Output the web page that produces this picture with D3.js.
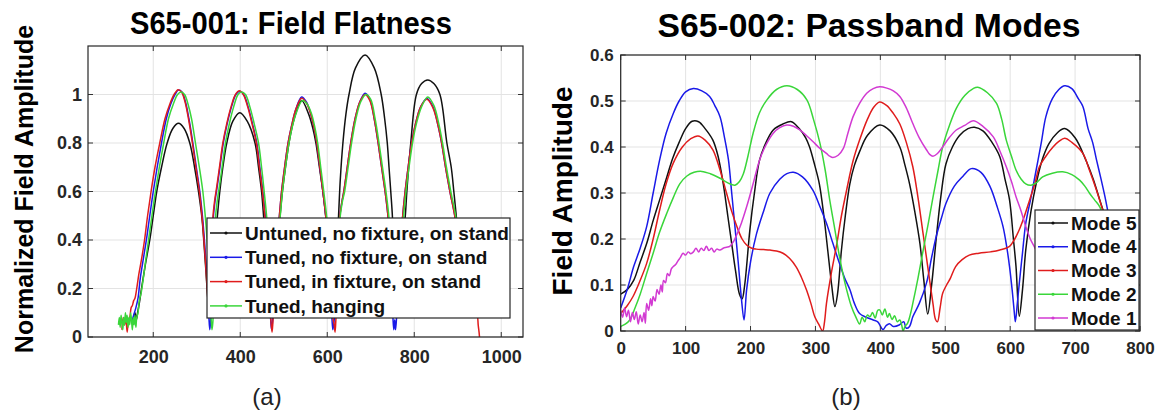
<!DOCTYPE html>
<html><head><meta charset="utf-8">
<script src="https://cdn.jsdelivr.net/npm/d3@7"></script>
<style>
html,body{margin:0;padding:0;background:#fff;}
svg{display:block;}
text{font-family:"Liberation Sans",Arial,Helvetica,sans-serif;}
</style></head>
<body>
<svg id="c" width="1158" height="414"></svg>
<script>
// ---------------- DATA: left chart (S65-001 Field Flatness) ----------------
const leftTitle = "S65-001: Field Flatness";
const leftYLabel = "Normalized Field Amplitude";
const leftXTicks = [200, 400, 600, 800, 1000];
const leftYTicks = [0, 0.2, 0.4, 0.6, 0.8, 1];
const leftSeriesNames = ["Untuned, no fixture, on stand", "Tuned, no fixture, on stand", "Tuned, in fixture, on stand", "Tuned, hanging"];

const untuned = [[155,0.08],[158,0.1],[161,0.07],[164,0.1],[168,0.14],[173,0.2],[182,0.3],[192,0.4],[200,0.5],[208,0.6],[219,0.7],[232,0.8],[245,0.86],[258,0.881],[271,0.86],[284,0.8],[295,0.7],[304,0.6],[312,0.49],[320,0.3],[326,0.15],[330,0.1],[334,0.14],[340,0.35],[347,0.49],[353,0.6],[360,0.7],[369,0.8],[383,0.89],[399,0.925],[416,0.89],[434,0.8],[442,0.7],[449,0.6],[454,0.49],[462,0.3],[468,0.14],[472,0.1],[477,0.18],[485,0.38],[491,0.49],[497,0.6],[504,0.7],[512,0.8],[524,0.9],[541,0.975],[557,0.92],[567,0.86],[574,0.8],[582,0.7],[590,0.6],[597,0.49],[604,0.3],[610,0.14],[614,0.1],[618,0.15],[622,0.35],[626,0.5],[630,0.65],[636,0.8],[643,0.92],[650,1.0],[665,1.11],[687,1.163],[708,1.11],[724,1.0],[732,0.9],[738,0.8],[742,0.7],[746,0.6],[750,0.49],[753,0.3],[756,0.14],[758,0.1],[762,0.15],[770,0.35],[779,0.49],[783,0.6],[792,0.8],[805,1.0],[817,1.045],[831,1.06],[845,1.045],[859,1.0],[875,0.8],[885,0.7],[891,0.6],[897,0.49],[905,0.3],[912,0.14]];

const tunedNoFixture = [[150,0.06],[155,0.09],[160,0.12],[165,0.16],[170,0.24],[177,0.32],[185,0.41],[192,0.5],[200,0.6],[209,0.7],[219,0.8],[230,0.9],[240,0.96],[250,1.0],[258,1.018],[266,1.01],[274,0.97],[282,0.9],[291,0.8],[299,0.7],[307,0.6],[314,0.48],[320,0.34],[325,0.2],[328,0.08],[330,0.03],[332,0.07],[335,0.3],[338,0.49],[342,0.56],[347,0.62],[354,0.71],[361,0.8],[370,0.88],[380,0.95],[390,1.0],[399,1.013],[408,1.0],[418,0.95],[428,0.88],[438,0.8],[445,0.7],[452,0.6],[458,0.49],[463,0.35],[467,0.2],[470,0.07],[472,0.03],[474,0.06],[478,0.2],[484,0.4],[490,0.5],[495,0.6],[502,0.7],[510,0.8],[518,0.87],[528,0.94],[541,0.99],[552,0.97],[562,0.92],[570,0.86],[576,0.8],[583,0.7],[590,0.6],[597,0.49],[603,0.35],[608,0.18],[611,0.07],[613,0.03],[616,0.07],[620,0.2],[625,0.4],[629,0.5],[634,0.56],[638,0.6],[646,0.7],[654,0.8],[664,0.9],[675,0.97],[687,1.005],[698,0.98],[708,0.9],[717,0.8],[725,0.7],[733,0.6],[740,0.49],[744,0.35],[748,0.2],[751,0.08],[753,0.03],[755,0.07],[757,0.03],[760,0.1],[766,0.3],[773,0.49],[779,0.6],[786,0.7],[794,0.8],[803,0.88],[815,0.95],[829,0.984],[843,0.95],[855,0.87],[863,0.8],[872,0.7],[882,0.6],[894,0.49],[902,0.3],[908,0.15]];

const tunedInFixture = [[128,0.03],[131,0.08],[134,0.05],[137,0.08],[140,0.02],[143,0.07],[146,0.08],[149,0.12],[152,0.13],[155,0.15],[158,0.16],[162,0.2],[167,0.26],[173,0.32],[180,0.4],[187,0.5],[195,0.6],[204,0.7],[215,0.8],[227,0.9],[238,0.96],[248,1.0],[257,1.02],[265,1.01],[273,0.97],[281,0.9],[290,0.8],[298,0.7],[306,0.6],[313,0.48],[319,0.34],[324,0.2],[327,0.12],[329,0.1],[331,0.12],[334,0.3],[337,0.49],[341,0.56],[346,0.62],[353,0.71],[360,0.8],[369,0.88],[379,0.95],[389,1.0],[398,1.015],[407,1.0],[417,0.95],[427,0.88],[437,0.8],[444,0.7],[451,0.6],[457,0.49],[462,0.35],[467,0.2],[470,0.08],[473,0.02],[475,0.06],[479,0.2],[485,0.4],[490,0.5],[495,0.6],[502,0.7],[510,0.8],[518,0.87],[528,0.94],[541,0.985],[552,0.965],[562,0.92],[570,0.86],[576,0.8],[583,0.7],[590,0.6],[597,0.49],[603,0.35],[609,0.18],[613,0.08],[616,0.05],[618,0.02],[620,0.08],[624,0.3],[629,0.5],[634,0.56],[638,0.6],[646,0.7],[654,0.8],[664,0.9],[675,0.97],[687,1.0],[698,0.975],[708,0.9],[717,0.8],[725,0.7],[733,0.6],[740,0.49],[744,0.35],[748,0.2],[752,0.12],[755,0.1],[760,0.14],[766,0.3],[773,0.49],[779,0.6],[786,0.7],[794,0.8],[803,0.88],[815,0.95],[829,0.98],[843,0.945],[855,0.87],[863,0.8],[872,0.7],[882,0.6],[894,0.49],[905,0.35],[918,0.22],[930,0.15],[940,0.11],[945,0.09],[947,0.05],[949,0.02],[950,0.0]];

const tunedHanging = [[120,0.05],[122,0.08],[124,0.04],[126,0.09],[128,0.06],[130,0.03],[132,0.08],[134,0.05],[136,0.1],[138,0.06],[140,0.09],[142,0.04],[144,0.08],[146,0.05],[148,0.1],[150,0.07],[152,0.03],[154,0.08],[156,0.05],[158,0.09],[160,0.04],[162,0.08],[165,0.1],[168,0.15],[172,0.18],[177,0.24],[183,0.32],[190,0.41],[197,0.5],[205,0.6],[214,0.7],[224,0.8],[235,0.9],[246,0.96],[256,1.0],[264,1.01],[272,1.0],[280,0.96],[288,0.9],[297,0.8],[306,0.7],[314,0.6],[320,0.49],[326,0.34],[330,0.2],[333,0.08],[335,0.03],[337,0.06],[340,0.3],[343,0.49],[347,0.56],[352,0.62],[359,0.71],[366,0.8],[375,0.88],[385,0.95],[395,1.0],[403,1.01],[412,1.0],[422,0.95],[432,0.88],[442,0.8],[449,0.7],[455,0.6],[461,0.49],[466,0.35],[470,0.2],[473,0.12],[475,0.1],[478,0.17],[486,0.4],[492,0.5],[497,0.6],[504,0.7],[512,0.8],[520,0.87],[530,0.93],[543,0.975],[554,0.96],[564,0.92],[572,0.86],[578,0.8],[585,0.7],[592,0.6],[599,0.49],[605,0.35],[610,0.18],[613,0.12],[616,0.1],[619,0.17],[624,0.35],[630,0.5],[635,0.56],[640,0.6],[648,0.7],[656,0.8],[666,0.9],[677,0.97],[689,1.0],[700,0.98],[710,0.9],[719,0.8],[727,0.7],[735,0.6],[742,0.49],[746,0.35],[750,0.2],[753,0.12],[756,0.1],[760,0.15],[767,0.3],[775,0.49],[781,0.6],[788,0.7],[796,0.8],[805,0.88],[817,0.95],[831,0.99],[845,0.955],[857,0.875],[865,0.8],[874,0.7],[884,0.6],[896,0.49],[904,0.3],[910,0.15]];

// ---------------- DATA: right chart (S65-002 Passband Modes) ----------------
const rightTitle = "S65-002: Passband Modes";
const rightYLabel = "Field Amplitude";
const rightXTicks = [0, 100, 200, 300, 400, 500, 600, 700, 800];
const rightYTicks = [0, 0.1, 0.2, 0.3, 0.4, 0.5, 0.6];
const modeNames = ["Mode 5", "Mode 4", "Mode 3", "Mode 2", "Mode 1"];

const mode5 = [[0,0.08],[10,0.09],[20,0.11],[30,0.15],[40,0.19],[50,0.24],[60,0.285],[70,0.33],[80,0.375],[90,0.41],[100,0.44],[110,0.456],[120,0.455],[130,0.44],[142,0.415],[150,0.38],[158,0.32],[165,0.25],[171,0.19],[177,0.13],[183,0.08],[187,0.07],[191,0.1],[199,0.22],[206,0.3],[214,0.372],[224,0.41],[235,0.437],[250,0.45],[263,0.455],[275,0.44],[285,0.42],[291,0.4],[299,0.36],[306,0.32],[313,0.25],[319,0.175],[325,0.1],[330,0.053],[334,0.08],[340,0.175],[346,0.25],[353,0.32],[360,0.36],[368,0.39],[380,0.425],[399,0.448],[415,0.435],[430,0.4],[438,0.36],[445,0.32],[453,0.26],[461,0.19],[467,0.11],[473,0.037],[479,0.1],[486,0.2],[493,0.29],[501,0.363],[511,0.4],[522,0.425],[535,0.44],[545,0.443],[558,0.435],[572,0.41],[584,0.379],[592,0.33],[599,0.285],[605,0.2],[609,0.14],[614,0.032],[619,0.09],[624,0.176],[632,0.26],[640,0.32],[650,0.375],[660,0.408],[672,0.43],[684,0.44],[700,0.42],[717,0.37],[728,0.33],[738,0.285],[748,0.24],[758,0.19],[770,0.12]];

const mode4 = [[0,0.05],[10,0.09],[20,0.14],[30,0.18],[40,0.227],[50,0.3],[60,0.372],[70,0.43],[81,0.473],[90,0.5],[100,0.52],[112,0.527],[125,0.522],[137,0.51],[145,0.49],[153,0.466],[160,0.42],[166,0.372],[171,0.3],[176,0.227],[181,0.15],[186,0.07],[190,0.024],[194,0.09],[200,0.15],[209,0.21],[220,0.26],[230,0.3],[245,0.33],[256,0.342],[266,0.345],[280,0.335],[296,0.306],[307,0.27],[317,0.234],[327,0.19],[337,0.147],[345,0.115],[353,0.09],[360,0.06],[368,0.038],[378,0.03],[389,0.024],[396,0.02],[404,0.003],[409,0.012],[414,0.016],[420,0.01],[429,0.013],[436,0.02],[440,0.006],[445,0.01],[450,0.031],[460,0.06],[471,0.104],[479,0.16],[486,0.205],[494,0.245],[501,0.277],[514,0.315],[527,0.336],[540,0.353],[555,0.345],[569,0.314],[580,0.27],[589,0.227],[595,0.18],[599,0.14],[603,0.09],[606,0.046],[608,0.02],[611,0.06],[614,0.103],[619,0.17],[624,0.234],[632,0.29],[640,0.35],[648,0.41],[655,0.466],[665,0.505],[675,0.525],[684,0.533],[695,0.527],[705,0.505],[712,0.488],[720,0.44],[727,0.41],[733,0.372],[740,0.33],[746,0.292],[752,0.25],[760,0.2]];

const mode3 = [[0,0.038],[10,0.055],[19,0.075],[30,0.11],[40,0.147],[50,0.2],[60,0.263],[70,0.32],[81,0.365],[95,0.4],[108,0.418],[119,0.424],[130,0.415],[142,0.394],[153,0.35],[163,0.3],[171,0.26],[179,0.227],[187,0.2],[194,0.187],[202,0.18],[209,0.178],[220,0.177],[230,0.176],[240,0.174],[250,0.169],[260,0.158],[270,0.14],[278,0.118],[286,0.09],[293,0.06],[299,0.031],[305,0.015],[311,0.0],[314,0.02],[317,0.06],[325,0.13],[333,0.19],[340,0.25],[348,0.306],[358,0.37],[368,0.415],[380,0.46],[390,0.487],[399,0.498],[410,0.49],[420,0.473],[430,0.45],[440,0.41],[450,0.357],[458,0.29],[466,0.21],[473,0.14],[481,0.06],[485,0.025],[488,0.02],[492,0.05],[496,0.082],[502,0.1],[508,0.115],[516,0.14],[526,0.155],[537,0.165],[552,0.169],[570,0.172],[584,0.176],[599,0.184],[607,0.2],[614,0.22],[622,0.25],[630,0.285],[638,0.32],[645,0.357],[655,0.38],[666,0.4],[675,0.412],[684,0.419],[695,0.41],[712,0.386],[722,0.35],[733,0.306],[741,0.27],[748,0.24],[756,0.2]];

const mode2 = [[0,0.01],[7,0.015],[14,0.024],[22,0.05],[30,0.08],[40,0.125],[50,0.169],[60,0.215],[71,0.256],[81,0.29],[91,0.32],[102,0.337],[113,0.345],[125,0.347],[138,0.342],[153,0.332],[165,0.322],[176,0.317],[183,0.325],[189,0.342],[196,0.38],[204,0.43],[214,0.475],[225,0.502],[240,0.525],[256,0.533],[272,0.525],[287,0.502],[297,0.46],[307,0.408],[315,0.35],[322,0.285],[330,0.22],[337,0.162],[343,0.12],[348,0.09],[355,0.055],[363,0.028],[368,0.015],[372,0.03],[376,0.02],[380,0.035],[384,0.031],[388,0.04],[392,0.028],[396,0.045],[399,0.046],[403,0.035],[407,0.048],[411,0.03],[414,0.038],[418,0.025],[422,0.033],[426,0.02],[430,0.024],[433,0.012],[435,0.0],[438,0.01],[442,0.017],[446,0.035],[450,0.06],[458,0.115],[466,0.176],[474,0.235],[481,0.29],[489,0.35],[496,0.4],[506,0.445],[517,0.484],[530,0.512],[543,0.527],[550,0.53],[565,0.518],[579,0.495],[587,0.46],[594,0.415],[602,0.38],[609,0.35],[617,0.33],[624,0.32],[632,0.317],[640,0.322],[650,0.335],[665,0.343],[681,0.346],[695,0.34],[707,0.328],[715,0.315],[722,0.3],[730,0.285],[738,0.27],[746,0.24],[755,0.2]];

const mode1 = [[0,0.045],[3,0.03],[6,0.05],[9,0.031],[12,0.045],[15,0.02],[18,0.04],[21,0.025],[24,0.042],[27,0.015],[30,0.035],[33,0.02],[36,0.04],[38,0.017],[40,0.06],[43,0.045],[46,0.07],[48,0.055],[50,0.075],[53,0.065],[56,0.09],[59,0.08],[62,0.1],[64,0.085],[66,0.11],[69,0.105],[72,0.125],[75,0.12],[78,0.135],[81,0.14],[85,0.145],[88,0.152],[92,0.16],[96,0.169],[100,0.165],[104,0.172],[108,0.168],[112,0.172],[116,0.18],[120,0.172],[124,0.18],[128,0.175],[132,0.184],[136,0.175],[140,0.18],[144,0.172],[148,0.178],[153,0.176],[158,0.18],[163,0.182],[168,0.184],[174,0.195],[179,0.21],[186,0.235],[194,0.27],[204,0.32],[214,0.372],[224,0.405],[235,0.43],[245,0.442],[256,0.448],[266,0.445],[276,0.437],[286,0.425],[296,0.412],[306,0.398],[317,0.386],[322,0.38],[327,0.377],[335,0.382],[343,0.397],[350,0.43],[358,0.466],[368,0.495],[379,0.517],[389,0.527],[399,0.531],[410,0.528],[420,0.522],[430,0.51],[440,0.485],[450,0.451],[460,0.42],[471,0.394],[476,0.384],[481,0.38],[488,0.386],[496,0.4],[506,0.42],[517,0.437],[530,0.447],[543,0.457],[558,0.445],[574,0.422],[584,0.392],[594,0.357],[602,0.325],[609,0.292],[617,0.26],[624,0.227],[631,0.2],[637,0.184],[645,0.16]];

// ---------------- DRAWING ----------------
const svg = d3.select("#c");
const C = {black:"#111111", blue:"#1a1ae8", red:"#e01c1c", green:"#3ad63a", magenta:"#d23ad2"};

function drawChart(cfg){
  const g = svg.append("g");
  const x = cfg.x, y = cfg.y;
  const [x0,x1] = x.range(), [y0,y1] = y.range();
  g.append("g").selectAll("line").data(cfg.xTicks).join("line")
    .attr("x1",d=>x(d)).attr("x2",d=>x(d)).attr("y1",y0).attr("y2",y1)
    .attr("stroke","#e3e3e3").attr("stroke-width",1);
  g.append("g").selectAll("line").data(cfg.yTicks).join("line")
    .attr("x1",x0).attr("x2",x1).attr("y1",d=>y(d)).attr("y2",d=>y(d))
    .attr("stroke","#e3e3e3").attr("stroke-width",1);
  const clipId = "clip"+cfg.id;
  g.append("clipPath").attr("id",clipId).append("rect")
    .attr("x",x0).attr("y",y1).attr("width",x1-x0).attr("height",y0-y1);
  const line = d3.line().x(d=>x(d[0])).y(d=>y(d[1])).curve(d3.curveCatmullRom.alpha(0.5));
  const sg = g.append("g").attr("clip-path","url(#"+clipId+")");
  cfg.series.forEach(s=>{
    sg.append("path").attr("d",line(s.data)).attr("fill","none")
      .attr("stroke",s.color).attr("stroke-width",1.5).attr("stroke-linejoin","round");
  });
  const fs = cfg.tickFont;
  const ax = g.append("g").attr("transform",`translate(0,${y0})`)
    .call(d3.axisBottom(x).tickValues(cfg.xTicks).tickSize(0).tickPadding(cfg.xPad).tickFormat(d3.format("")));
  const ay = g.append("g").attr("transform",`translate(${x0},0)`)
    .call(d3.axisLeft(y).tickValues(cfg.yTicks).tickSize(0).tickPadding(cfg.yPad).tickFormat(d=>String(+d.toFixed(2))));
  [ax,ay].forEach(a=>{
    a.select(".domain").remove();
    a.selectAll("text").attr("font-size",fs).attr("font-weight","bold").attr("fill","#262626")
      .attr("font-family","'Liberation Sans',Arial,sans-serif");
  });
  const tl = 5;
  const tk = g.append("g").attr("stroke","#333").attr("stroke-width",1);
  cfg.xTicks.forEach(t=>{
    tk.append("line").attr("x1",x(t)).attr("x2",x(t)).attr("y1",y0).attr("y2",y0-tl);
    tk.append("line").attr("x1",x(t)).attr("x2",x(t)).attr("y1",y1).attr("y2",y1+tl);
  });
  cfg.yTicks.forEach(t=>{
    tk.append("line").attr("x1",x0).attr("x2",x0+tl).attr("y1",y(t)).attr("y2",y(t));
    tk.append("line").attr("x1",x1).attr("x2",x1-tl).attr("y1",y(t)).attr("y2",y(t));
  });
  g.append("rect").attr("x",x0).attr("y",y1).attr("width",x1-x0).attr("height",y0-y1)
    .attr("fill","none").attr("stroke","#262626").attr("stroke-width",1.2);
  g.append("text").attr("x",cfg.titleX).attr("y",cfg.titleY).attr("text-anchor","middle")
    .attr("font-size",cfg.titleSize).attr("font-weight","bold").attr("fill","#000")
    .attr("textLength",cfg.titleLen).attr("lengthAdjust","spacingAndGlyphs").text(cfg.title);
  g.append("text").attr("transform",`translate(${cfg.ylabX},${cfg.ylabY}) rotate(-90)`)
    .attr("text-anchor","middle").attr("font-size",cfg.ylabSize).attr("font-weight","bold")
    .attr("fill","#000").text(cfg.ylab);
  const L = cfg.legend;
  const lg = g.append("g");
  lg.append("rect").attr("x",L.x).attr("y",L.y).attr("width",L.w).attr("height",L.h)
    .attr("fill","#fff").attr("stroke","#262626").attr("stroke-width",1.2);
  cfg.series.forEach((s,i)=>{
    const cy = L.y + L.first + i*L.step;
    lg.append("line").attr("x1",L.x+3).attr("x2",L.x+3+L.len).attr("y1",cy).attr("y2",cy)
      .attr("stroke",s.color).attr("stroke-width",1.5);
    lg.append("circle").attr("cx",L.x+3+L.len/2).attr("cy",cy).attr("r",1.6).attr("fill",s.color);
    lg.append("text").attr("x",L.x+L.len+6).attr("y",cy).attr("dy","0.35em")
      .attr("font-size",L.fs).attr("font-weight","bold").attr("fill","#111").text(s.name);
  });
  svg.append("text").attr("x",cfg.capX).attr("y",405).attr("text-anchor","middle")
    .attr("font-family","'Liberation Serif','Times New Roman',serif")
    .attr("font-size",24).attr("fill","#222").text(cfg.caption);
}

drawChart({
  id:"L",
  x:d3.scaleLinear().domain([50,1050]).range([88,523]),
  y:d3.scaleLinear().domain([0,1.2]).range([337,46]),
  xTicks:leftXTicks, yTicks:leftYTicks, tickFont:18, xPad:13, yPad:6,
  series:[
    {name:leftSeriesNames[0], color:C.black, data:untuned},
    {name:leftSeriesNames[1], color:C.blue, data:tunedNoFixture},
    {name:leftSeriesNames[2], color:C.red, data:tunedInFixture},
    {name:leftSeriesNames[3], color:C.green, data:tunedHanging}
  ],
  title:leftTitle, titleX:291, titleY:34, titleSize:31, titleLen:322,
  ylab:leftYLabel, ylabX:33, ylabY:189, ylabSize:25,
  legend:{x:207,y:218,w:303,h:100,first:15,step:24.3,len:32,fs:19},
  caption:"(a)", capX:267
});

drawChart({
  id:"R",
  x:d3.scaleLinear().domain([0,800]).range([620.7,1140]),
  y:d3.scaleLinear().domain([0,0.6]).range([331,55]),
  xTicks:rightXTicks, yTicks:rightYTicks, tickFont:17, xPad:11, yPad:7,
  series:[
    {name:modeNames[0], color:C.black, data:mode5},
    {name:modeNames[1], color:C.blue, data:mode4},
    {name:modeNames[2], color:C.red, data:mode3},
    {name:modeNames[3], color:C.green, data:mode2},
    {name:modeNames[4], color:C.magenta, data:mode1}
  ],
  title:rightTitle, titleX:869, titleY:37, titleSize:34, titleLen:423,
  ylab:rightYLabel, ylabX:572, ylabY:191, ylabSize:28,
  legend:{x:1035,y:210,w:104,h:120,first:13,step:23.75,len:30,fs:19},
  caption:"(b)", capX:846
});
</script>
</body></html>
